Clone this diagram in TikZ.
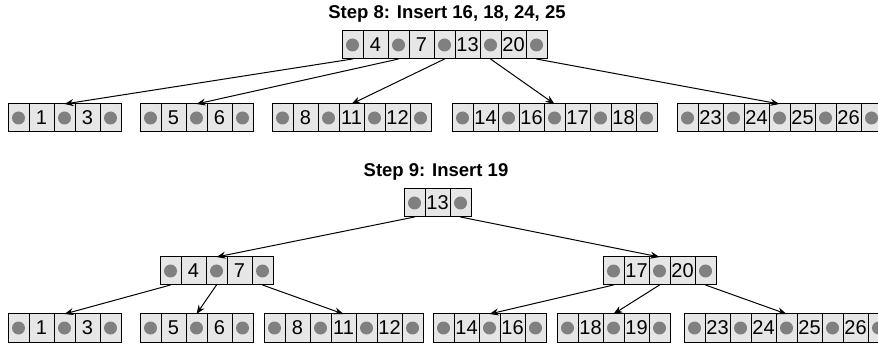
\documentclass[tikz,border=0pt]{standalone}
\usepackage{fontspec}
\setmainfont{Liberation Sans}
\usetikzlibrary{calc,positioning,arrows.meta}
\usepackage{xcolor}
\definecolor{cellgray}{HTML}{E6E6E6}
\definecolor{dotgray}{HTML}{808080}

\tikzset{
  cell/.style={draw=black, fill=cellgray, line width=1pt, inner sep=0pt, outer sep=0pt, minimum height=28pt},
  ptrcell/.style={cell, minimum width=21pt,
    path picture={\fill[dotgray] (path picture bounding box.center) circle (6.5pt);}},
  keycell/.style={cell, minimum width=25pt, font=\fontsize{20}{22}\selectfont},
  steptitle/.style={font=\bfseries\fontsize{18.5}{20}\selectfont},
  link/.style={line width=1pt, -{Stealth[length=9pt,width=7pt]}}
}

% one B-tree node: name, left x, top y, keys
\newcommand{\btnode}[4]{%
  \node[ptrcell, anchor=north west] (#1-c1) at (#2,#3) {};
  \foreach \key [count=\i, evaluate=\i as \p using int(2*\i-1),
      evaluate=\i as \q using int(2*\i), evaluate=\i as \r using int(2*\i+1)] in {#4} {
    \node[keycell, right=0pt of #1-c\p] (#1-c\q) {\key};
    \node[ptrcell, right=0pt of #1-c\q] (#1-c\r) {};
    \coordinate (#1) at ($(#1-c1.north west)!0.5!(#1-c\r.north east)$);
  }%
}

\begin{document}
\begin{tikzpicture}[x=1pt, y=-1pt]
  \useasboundingbox (0,0) rectangle (878,347);

  % Step 8
  \node[steptitle] (title8) at (447,14) {Step 8: Insert 16, 18, 24, 25};
  \btnode{s8root}{342}{31}{4,7,13,20}
  \btnode{s8a}{8}{104}{1,3}
  \btnode{s8b}{140}{104}{5,6}
  \btnode{s8c}{272}{104}{8,11,12}
  \btnode{s8d}{452}{104}{14,16,17,18}
  \btnode{s8e}{677}{104}{23,24,25,26}
  \draw[link] (s8root-c1.south) -- (s8a);
  \draw[link] (s8root-c3.south) -- (s8b);
  \draw[link] (s8root-c5.south) -- (s8c);
  \draw[link] (s8root-c7.south) -- (s8d);
  \draw[link] (s8root-c9.south) -- (s8e);

  % Step 9
  \node[steptitle] (title9) at (436,172) {Step 9: Insert 19};
  \btnode{s9root}{404}{189}{13}
  \btnode{s9left}{160}{257}{4,7}
  \btnode{s9right}{603}{257}{17,20}
  \btnode{s9a}{8}{314}{1,3}
  \btnode{s9b}{140}{314}{5,6}
  \btnode{s9c}{264}{314}{8,11,12}
  \btnode{s9d}{433}{314}{14,16}
  \btnode{s9e}{557}{314}{18,19}
  \btnode{s9f}{684}{314}{23,24,25,26}
  \draw[link] (s9root-c1.south) -- (s9left);
  \draw[link] (s9root-c3.south) -- (s9right);
  \draw[link] (s9left-c1.south) -- (s9a);
  \draw[link] (s9left-c3.south) -- (s9b);
  \draw[link] (s9left-c5.south) -- (s9c);
  \draw[link] (s9right-c1.south) -- (s9d);
  \draw[link] (s9right-c3.south) -- (s9e);
  \draw[link] (s9right-c5.south) -- (s9f);
\end{tikzpicture}
\end{document}
